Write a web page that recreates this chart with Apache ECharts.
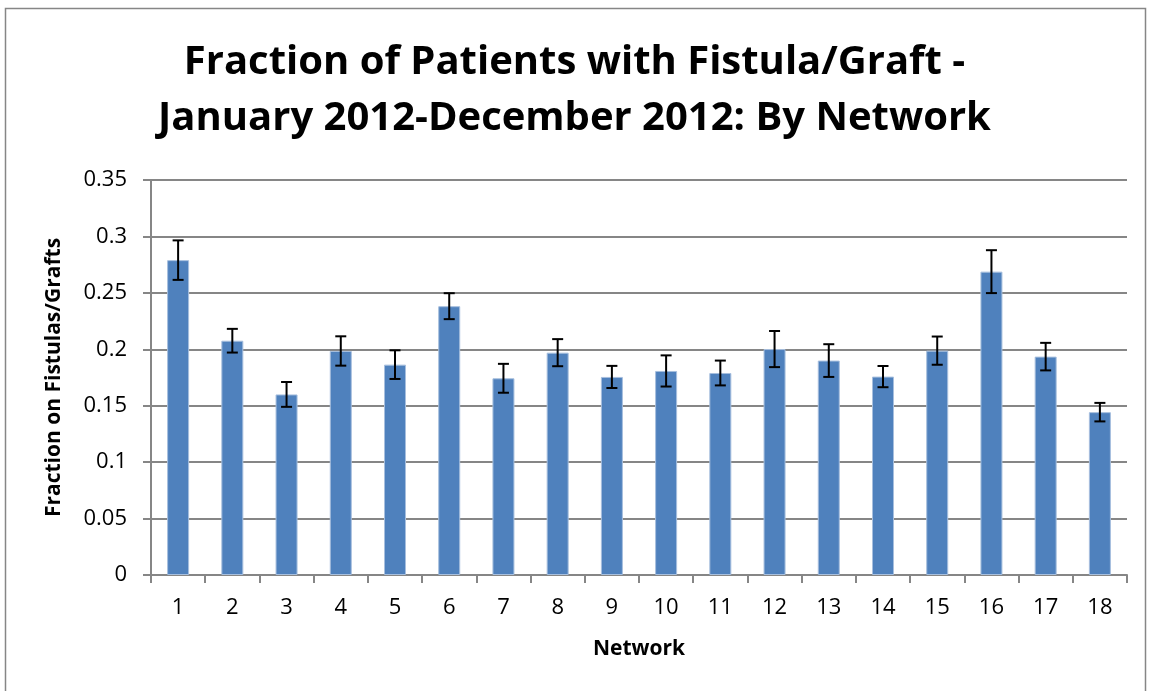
<!DOCTYPE html>
<html>
<head>
<meta charset="utf-8">
<script src="https://cdn.jsdelivr.net/npm/echarts@6/dist/echarts.min.js"></script>
<style>
  html, body { margin: 0; padding: 0; background: #fff; }
  #chart { width: 1149px; height: 691px; }
</style>
</head>
<body>
<div id="chart"></div>
<script>
const networks = ['1','2','3','4','5','6','7','8','9','10','11','12','13','14','15','16','17','18']
const fractions = [0.279, 0.2076, 0.160, 0.1985, 0.1864, 0.2382, 0.1743, 0.197, 0.1755,
  0.1808, 0.179, 0.2002, 0.190, 0.1758, 0.1988, 0.2688, 0.1935, 0.1443]
// +/- half width of the error bar
const errors = [0.0175, 0.0105, 0.011, 0.013, 0.0127, 0.0115, 0.0128, 0.012, 0.0098,
  0.0138, 0.011, 0.016, 0.0145, 0.0094, 0.0125, 0.019, 0.0122, 0.0082]
const yTicks = ['0', '0.05', '0.1', '0.15', '0.2', '0.25', '0.3', '0.35']

const font = "'Open Sans', 'Liberation Sans', sans-serif"

const chart = echarts.init(document.getElementById('chart'))

const errData = fractions.map((v, i) => [i, v - errors[i], v + errors[i]])

const options = {
  animation: false,
  title: {
    text: 'Fraction of Patients with Fistula/Graft -\nJanuary 2012-December 2012: By Network',
    left: 'center',
    top: 30,
    padding: [5, 5, 5, 17],
    textStyle: {
      fontFamily: font,
      fontWeight: 'bold',
      fontSize: 40,
      lineHeight: 56,
      color: '#000'
    }
  },
  graphic: [{
    type: 'rect',
    shape: { x: 5.5, y: 8.5, width: 1140, height: 700 },
    style: { fill: 'none', stroke: '#868686', lineWidth: 1.5 },
    silent: true
  }],
  grid: {
    left: 151,
    right: 22,
    top: 180,
    bottom: 116
  },
  xAxis: {
    type: 'category',
    data: networks,
    name: 'Network',
    nameLocation: 'middle',
    nameGap: 64,
    nameTextStyle: { fontFamily: font, fontWeight: 'bold', fontSize: 21, color: '#000' },
    axisLine: { lineStyle: { color: '#868686', width: 2 } },
    axisTick: { show: true, length: 8, lineStyle: { color: '#868686', width: 2 } },
    axisLabel: { fontFamily: font, fontSize: 22, color: '#000', margin: 22 }
  },
  yAxis: {
    type: 'value',
    min: 0,
    max: 0.35,
    interval: 0.05,
    name: 'Fraction on Fistulas/Grafts',
    nameLocation: 'middle',
    nameGap: 86,
    nameTextStyle: { fontFamily: font, fontWeight: 'bold', fontSize: 21, color: '#000' },
    axisLine: { show: true, lineStyle: { color: '#868686', width: 2 } },
    axisTick: { show: true, length: 8, lineStyle: { color: '#868686', width: 2 } },
    axisLabel: {
      fontFamily: font,
      fontSize: 22,
      color: '#000',
      margin: 24,
      formatter: (v) => yTicks[Math.round(v / 0.05)]
    },
    splitLine: { lineStyle: { color: '#868686', width: 2 } }
  },
  series: [
    {
      type: 'bar',
      data: fractions,
      barWidth: 22,
      itemStyle: {
        color: '#4F81BD',
        borderColor: '#A7BFDE',
        borderWidth: 1
      },
      z: 2
    },
    {
      type: 'custom',
      data: errData,
      z: 5,
      renderItem: (params, api) => {
        const idx = api.value(0)
        const lo = api.coord([idx, api.value(1)])
        const hi = api.coord([idx, api.value(2)])
        const half = 5.5
        const style = { stroke: '#000', lineWidth: 2 }
        return {
          type: 'group',
          children: [
            { type: 'line', shape: { x1: lo[0], y1: lo[1], x2: hi[0], y2: hi[1] }, style },
            { type: 'line', shape: { x1: hi[0] - half, y1: hi[1], x2: hi[0] + half, y2: hi[1] }, style },
            { type: 'line', shape: { x1: lo[0] - half, y1: lo[1], x2: lo[0] + half, y2: lo[1] }, style }
          ]
        }
      }
    }
  ]
}

chart.setOption(options)
</script>
</body>
</html>
